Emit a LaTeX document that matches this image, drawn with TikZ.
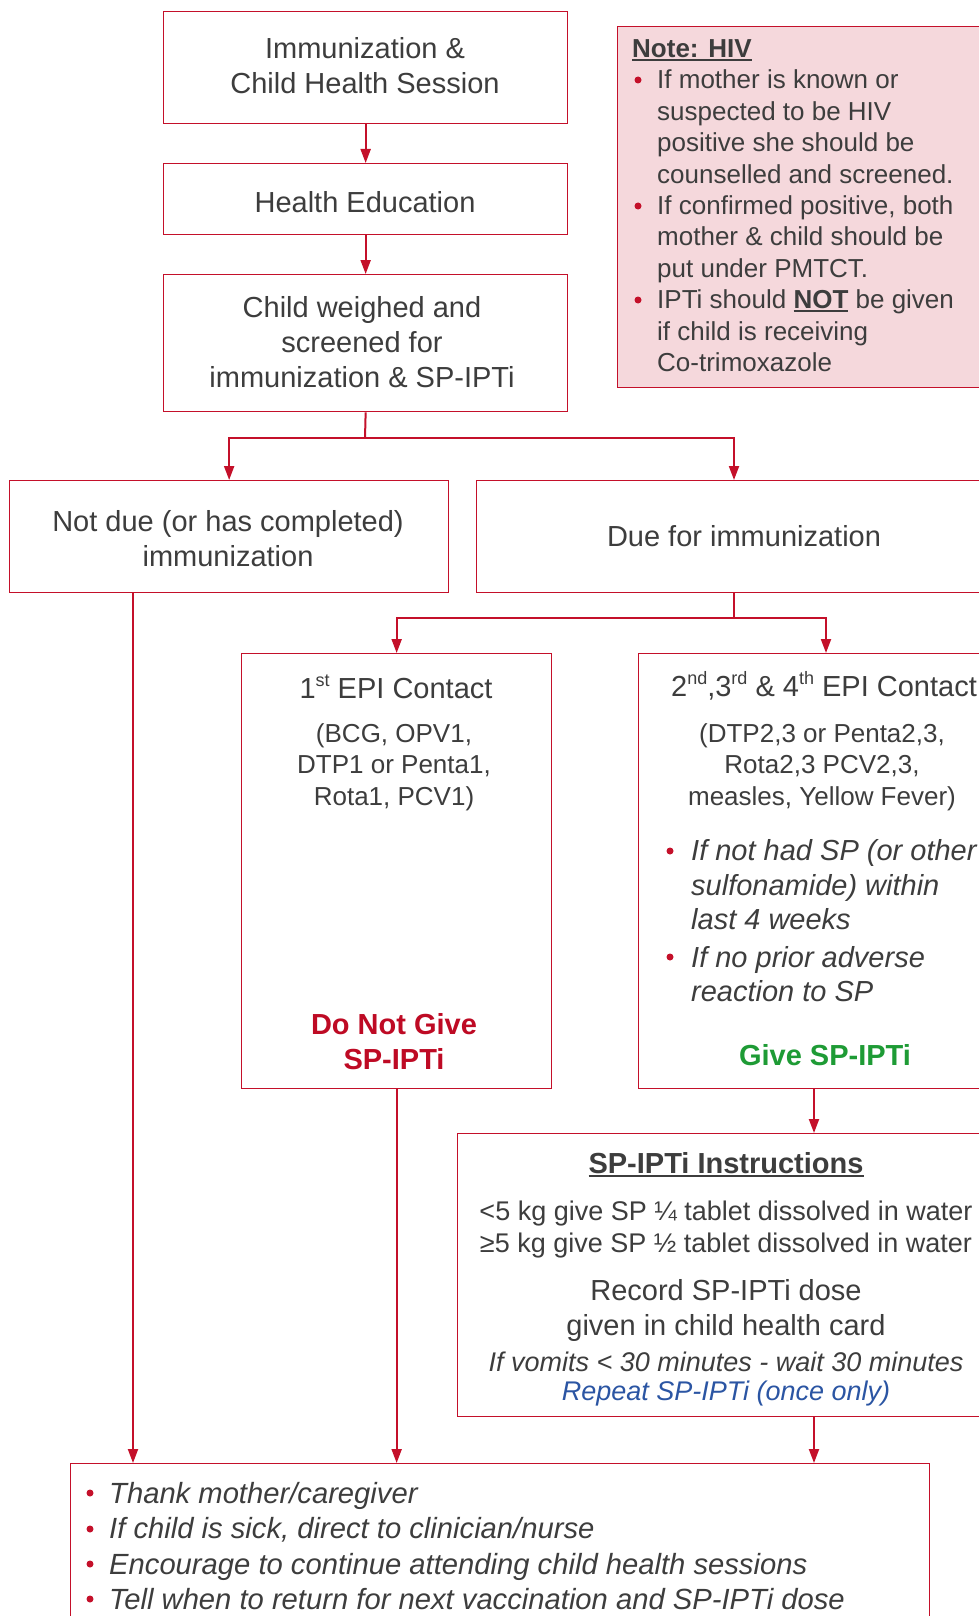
\documentclass[tikz,border=0pt]{standalone}
\usepackage{fontspec}
\setmainfont{Liberation Sans}
\usetikzlibrary{arrows.meta}
\definecolor{lred}{HTML}{C4102A}
\definecolor{tgray}{HTML}{3D3D3D}
\definecolor{nfill}{HTML}{F5D8DC}
\definecolor{tgreen}{HTML}{1E9B35}
\definecolor{tblue}{HTML}{2B55A3}
\definecolor{bred}{HTML}{BE0A24}
\newcommand\myul[1]{\setbox0\hbox{#1}\rlap{\rule[-3.5pt]{\wd0}{1.8pt}}\box0}
\newcommand\mysup[1]{\raisebox{0.40em}{\fontsize{18}{18}\selectfont #1}}
\begin{document}
\begin{tikzpicture}[x=1pt,y=-1pt,
  box/.style={draw=lred, line width=1.3pt, anchor=north west, inner sep=0pt},
  arr/.style={draw=lred, line width=2pt, -{Triangle[width=10pt,length=14pt]}},
  ln/.style={draw=lred, line width=2pt},
  big/.style={font=\fontsize{29}{35}\selectfont, text=tgray, inner sep=0pt, align=center},
  small/.style={font=\fontsize{26}{31.4}\selectfont, text=tgray, inner sep=0pt, align=center},
  mid/.style={font=\fontsize{27}{32}\selectfont, text=tgray, inner sep=0pt, align=center},
  dot/.style={circle, fill=lred, inner sep=0pt, minimum size=7pt}
]
\useasboundingbox (0,0) rectangle (979,1616);
\clip (0,0) rectangle (979,1616);
\fill[white] (0,0) rectangle (979,1616);

% boxes
\node[box, minimum width=404pt, minimum height=112pt] (b1) at (163,11) {};
\node[box, minimum width=404pt, minimum height=71pt] (b2) at (163,163) {};
\node[box, minimum width=404pt, minimum height=137pt] (b3) at (163,274) {};
\node[box, fill=nfill, minimum width=383pt, minimum height=361pt] (note) at (617,26) {};
\node[box, minimum width=439pt, minimum height=112pt] (notdue) at (9,480) {};
\node[box, minimum width=524pt, minimum height=112pt] (due) at (476,480) {};
\node[box, minimum width=310pt, minimum height=435pt] (epi1) at (241,653) {};
\node[box, minimum width=362pt, minimum height=435pt] (epi2) at (638,653) {};
\node[box, minimum width=543pt, minimum height=283pt] (instr) at (457,1133) {};
\node[box, minimum width=859pt, minimum height=250pt] (final) at (70,1463) {};

% texts
\node[big] (t1) at (365,66) {Immunization \&\\Child Health Session};
\node[big] (t2) at (365,202) {Health Education};
\node[big] (t3) at (362,342) {Child weighed and\\screened for\\immunization \& SP-IPTi};

\node[small, anchor=west, font=\fontsize{26}{31.4}\selectfont\bfseries] (nt) at (632,50) {\myul{Note: HIV}};
\node[small, anchor=west, align=left] (nb) at (657,221) {If mother is known or\\suspected to be HIV\\positive she should be\\counselled and screened.\\If confirmed positive, both\\mother \& child should be\\put under PMTCT.\\IPTi should \textbf{\myul{NOT}} be given\\if child is receiving\\Co-trimoxazole};
\node[dot] (nd1) at (638,80) {};
\node[dot] (nd2) at (638,206) {};
\node[dot] (nd3) at (638,300) {};

\node[big] (t4) at (228,539) {Not due (or has completed)\\immunization};
\node[big] (t5) at (744,536) {Due for immunization};

\node[big] (e1t) at (396,687) {1\mysup{st} EPI Contact};
\node[small] (e1v) at (394,767) {(BCG, OPV1,\\DTP1 or Penta1,\\Rota1, PCV1)};
\node[big, text=bred, font=\fontsize{29}{35}\selectfont\bfseries] (e1n) at (394,1042) {Do Not Give\\SP-IPTi};

\node[big] (e2t) at (824,686) {2\mysup{nd},3\mysup{rd} \& 4\mysup{th} EPI Contact};
\node[small] (e2v) at (822,767) {(DTP2,3 or Penta2,3,\\Rota2,3 PCV2,3,\\measles, Yellow Fever)};
\node[big, anchor=west, align=left, font=\fontsize{29}{34.5}\selectfont\itshape] (e2b1) at (691,885) {If not had SP (or other\\sulfonamide) within\\last 4 weeks};
\node[big, anchor=west, align=left, font=\fontsize{29}{34.5}\selectfont\itshape] (e2b2) at (691,974) {If no prior adverse\\reaction to SP};
\node[dot] (ed1) at (670,851) {};
\node[dot] (ed2) at (670,957) {};
\node[big, text=tgreen, font=\fontsize{29}{35}\selectfont\bfseries] (e2g) at (825,1055) {Give SP-IPTi};

\node[big, font=\fontsize{29}{35}\selectfont\bfseries] (it) at (726,1165) {\myul{SP-IPTi Instructions}};
\node[mid] (id) at (726,1230) {<5 kg give SP ¼ tablet dissolved in water\\≥5 kg give SP ½ tablet dissolved in water};
\node[big] (ir) at (726,1310) {Record SP-IPTi dose\\given in child health card};
\node[mid, font=\fontsize{27}{32}\selectfont\itshape] (iv) at (726,1362) {If vomits < 30 minutes - wait 30 minutes};
\node[mid, text=tblue, font=\fontsize{27}{32}\selectfont\itshape] (ip) at (726,1394) {Repeat SP-IPTi (once only)};

\node[big, anchor=west, align=left, font=\fontsize{29.2}{35.3}\selectfont\itshape] (fb) at (109,1546) {Thank mother/caregiver\\If child is sick, direct to clinician/nurse\\Encourage to continue attending child health sessions\\Tell when to return for next vaccination and SP-IPTi dose};
\node[dot] (fd1) at (90,1493) {};
\node[dot] (fd2) at (90,1529) {};
\node[dot] (fd3) at (90,1564) {};
\node[dot] (fd4) at (90,1599) {};

% connectors
\coordinate (j1) at (365,438);
\coordinate (xdue) at (734,0);
\coordinate (j2) at (734,618);
\coordinate (xe2) at (826,0);
\coordinate (x3) at (814,0);
\coordinate (xnd) at (133,0);

\draw[arr] (b1.south) -- (b2.north);
\draw[arr] (b2.south) -- (b3.north);
\draw[ln] (b3.south) -- (j1);
\draw[arr] (j1) -| (notdue.north);
\draw[arr] (j1) -| (due.north -| xdue);
\draw[ln] (due.south -| xdue) -- (j2);
\draw[arr] (j2) -| (epi1.north);
\draw[arr] (j2) -| (epi2.north -| xe2);
\draw[arr] (epi2.south -| x3) -- (instr.north -| x3);
\draw[arr] (instr.south -| x3) -- (final.north -| x3);
\draw[arr] (epi1.south) -- (final.north -| epi1.south);
\draw[arr] (notdue.south -| xnd) -- (final.north -| xnd);
\end{tikzpicture}
\end{document}
